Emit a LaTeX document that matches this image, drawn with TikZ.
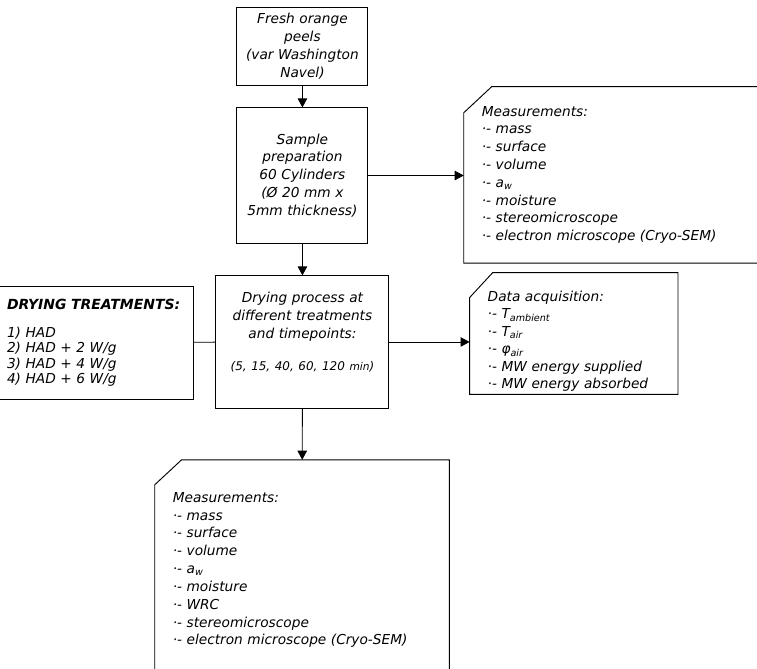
\documentclass[tikz,border=0pt]{standalone}
\usepackage{fontspec}
\setmainfont{DejaVu Sans}
\usetikzlibrary{arrows.meta}

\begin{document}
\begin{tikzpicture}[
  font=\itshape\fontsize{10.3}{13.4}\selectfont,
  box/.style={draw,line width=.7pt,fill=white,align=center,inner sep=2pt},
  note/.style={rectangle,fill=white,align=left,inner xsep=0.47cm,inner ysep=2pt},
  arrow/.style={-{Triangle[length=2.4mm,width=2.5mm]},line width=.7pt},
  link/.style={line width=.7pt}
]
\useasboundingbox (0,0) rectangle (20,-17.675);
% process column in the middle, measurement notes to the right and below
\node[box,minimum width=3.46cm,minimum height=2.06cm,text width=3.3cm] (peels) at (7.99,-1.215)
  {Fresh orange\\peels\\(var Washington\\Navel)};
\node[box,minimum width=3.46cm,minimum height=3.57cm,text width=3.3cm] (prep) at (7.99,-4.637)
  {Sample\\preparation\\60 Cylinders\\(Ø 20 mm x\\5mm thickness)};
\node[box,minimum width=4.57cm,minimum height=3.49cm,text width=4.4cm] (drying) at (7.99,-9.035)
  {Drying process at\\different treatments\\and timepoints:\\[11pt]{\small(5, 15, 40, 60, 120 {\footnotesize min})}\rule[-16pt]{0pt}{1pt}};
\node[box,align=left,minimum width=5.3cm,minimum height=2.985cm,text width=4.53cm,inner xsep=0.385cm,
  font=\itshape\fontsize{10.3}{11.4}\selectfont] (treat) at (2.45,-9.05)
  {\mbox{\bfseries\fontsize{10.5}{12}\selectfont DRYING TREATMENTS:}\\[10pt]1) HAD\\2) HAD + 2 W/g\\3) HAD + 4 W/g\\4) HAD + 6 W/g};

\node[note,minimum width=9.24cm,minimum height=4.65cm,text width=8.3cm] (meas1) at (16.88,-4.62)
  {Measurements:\\·- mass\\·- surface\\·- volume\\·- a\textsubscript{w}\\·- moisture\\·- stereomicroscope\\·- electron microscope (Cryo-SEM)};
\node[note,minimum width=5.49cm,minimum height=3.09cm,text width=4.55cm,
  font=\itshape\fontsize{10.3}{13.1}\selectfont] (data) at (15.16,-8.81)
  {\rule{0pt}{19.5pt}Data acquisition:\\·- T\textsubscript{ambient}\\·- T\textsubscript{air}\\·- φ\textsubscript{air}\\·- MW energy supplied\\·- MW energy absorbed};
\node[note,minimum width=7.77cm,minimum height=5.81cm,text width=6.83cm] (meas2) at (7.98,-15.06)
  {Measurements:\\·- mass\\·- surface\\·- volume\\·- a\textsubscript{w}\\·- moisture\\·- WRC\\·- stereomicroscope\\·- electron microscope (Cryo-SEM)};
% cut top-left corner of the note boxes
\foreach \n/\cx/\cy in {meas1/0.74/0.69,data/0.61/0.66,meas2/0.71/0.66}
  \draw[link] ([xshift=\cx cm]\n.north west) -- (\n.north east) -- (\n.south east)
    -- (\n.south west) -- ([yshift=-\cy cm]\n.north west) -- cycle;

\draw[arrow] (peels) -- (prep);
\draw[arrow] (prep) -- (prep -| meas1.west);
\draw[arrow] (prep) -- (drying);
\draw[link] (treat) -- (drying);
\draw[arrow] (drying) -- (drying -| data.west);
\draw[arrow] (drying) -- (meas2);
\end{tikzpicture}
\end{document}
